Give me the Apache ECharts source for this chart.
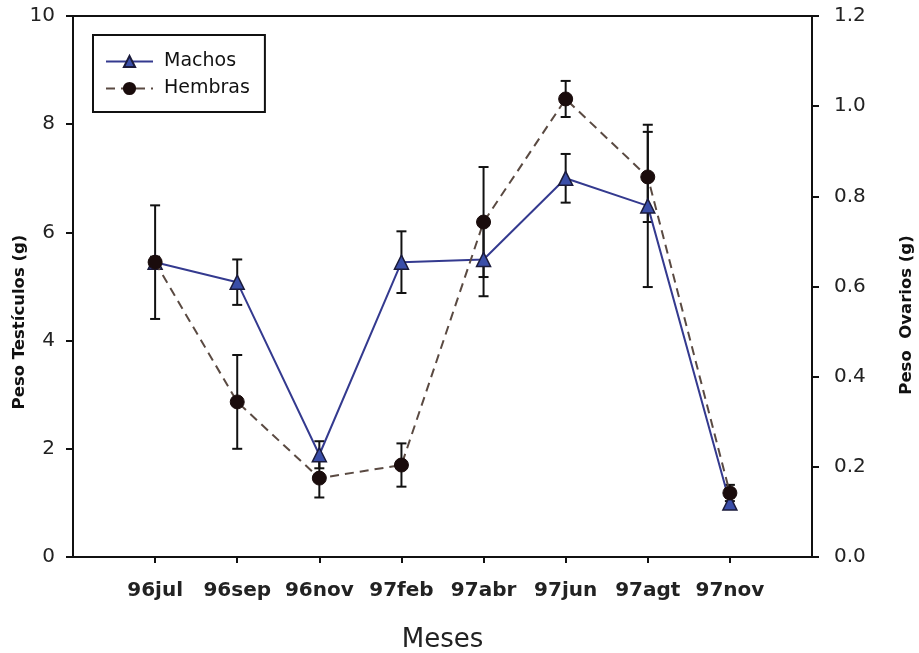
<!DOCTYPE html>
<html>
<head>
<meta charset="utf-8">
<script src="https://cdn.jsdelivr.net/npm/echarts@6/dist/echarts.min.js"></script>
<style>
html,body{margin:0;padding:0;background:#fff;}
#chart{width:919px;height:653px;}
</style>
</head>
<body>
<div id="chart"></div>
<script>
const categories = ['96jul','96sep','96nov','97feb','97abr','97jun','97agt','97nov'];
const machos = [5.45, 5.08, 1.89, 5.45, 5.5, 7.0, 6.49, 1.0];
const machosErr = [1.05, 0.42, 0.25, 0.57, 0.68, 0.45, 1.5, 0.1];
const hembras = [0.654, 0.344, 0.175, 0.204, 0.743, 1.016, 0.843, 0.142];
const hembrasErr = [0.012, 0.104, 0.043, 0.048, 0.122, 0.04, 0.1, 0.018];
const leftTicks = [0, 10, 2];
const rightTicks = [0, 1.2, 0.2];

const axisData = [''].concat(categories).concat(['']);
const FONT = 'DejaVu Sans';

function errData(vals, errs) {
  return vals.map((v, i) => [i + 1, v, errs[i]]);
}
function renderErr(params, api) {
  const x = api.value(0), y = api.value(1), e = api.value(2);
  const top = api.coord([x, y + e]);
  const bot = api.coord([x, y - e]);
  const hw = 5;
  const st = { stroke: '#111', lineWidth: 2 };
  return {
    type: 'group',
    children: [
      { type: 'line', shape: { x1: top[0], y1: top[1], x2: bot[0], y2: bot[1] }, style: st },
      { type: 'line', shape: { x1: top[0] - hw, y1: top[1], x2: top[0] + hw, y2: top[1] }, style: st },
      { type: 'line', shape: { x1: bot[0] - hw, y1: bot[1], x2: bot[0] + hw, y2: bot[1] }, style: st }
    ]
  };
}

const chart = echarts.init(document.getElementById('chart'));
chart.setOption({
  backgroundColor: '#fff',
  animation: false,
  grid: { left: 73, right: 107, top: 16, bottom: 96, containLabel: false, outerBoundsMode: 'none', show: true, borderColor: '#111', borderWidth: 2, backgroundColor: 'transparent' },
  legend: {
    orient: 'vertical',
    left: 93, top: 35,
    padding: [17, 15, 14, 12],
    borderColor: '#111', borderWidth: 2,
    itemWidth: 47, itemHeight: 14, itemGap: 8,
    textStyle: { fontFamily: FONT, fontSize: 19, color: '#111', padding: [0, 0, 0, 6] },
    data: ['Machos', 'Hembras']
  },
  xAxis: {
    type: 'category',
    data: axisData,
    boundaryGap: false,
    name: 'Meses',
    nameLocation: 'middle',
    nameGap: 70,
    nameTextStyle: { fontFamily: FONT, fontSize: 26, color: '#222' },
    axisLine: { lineStyle: { color: '#111', width: 2 } },
    axisTick: { show: true, length: 6, inside: false, interval: (i) => i > 0 && i < axisData.length - 1, lineStyle: { color: '#111', width: 2 } },
    axisLabel: { interval: 0, margin: 24, fontFamily: FONT, fontSize: 20, fontWeight: 'bold', color: '#222' },
    splitLine: { show: false }
  },
  yAxis: [
    {
      type: 'value', position: 'left',
      min: leftTicks[0], max: leftTicks[1], interval: leftTicks[2],
      axisLine: { show: true, lineStyle: { color: '#111', width: 2 } },
      axisTick: { show: true, length: 7, lineStyle: { color: '#111', width: 2 } },
      axisLabel: { margin: 18, fontFamily: FONT, fontSize: 20, color: '#222' },
      splitLine: { show: false }
    },
    {
      type: 'value', position: 'right',
      min: rightTicks[0], max: rightTicks[1], interval: rightTicks[2],
      axisLine: { show: true, lineStyle: { color: '#111', width: 2 } },
      axisTick: { show: true, length: 7, lineStyle: { color: '#111', width: 2 } },
      axisLabel: { margin: 22, fontFamily: FONT, fontSize: 20, color: '#222', formatter: (v) => v.toFixed(1) },
      splitLine: { show: false }
    }
  ],
  graphic: [
    { type: 'text', x: 20, y: 322, rotation: Math.PI / 2,
      style: { text: 'Peso Testículos (g)', textAlign: 'center', textVerticalAlign: 'middle', fontFamily: FONT, fontSize: 16.5, fontWeight: 'bold', fill: '#111' } },
    { type: 'text', x: 907, y: 315, rotation: Math.PI / 2,
      style: { text: 'Peso  Ovarios (g)', textAlign: 'center', textVerticalAlign: 'middle', fontFamily: FONT, fontSize: 16.5, fontWeight: 'bold', fill: '#111' } }
  ],
  series: [
    {
      type: 'custom', name: 'errM', yAxisIndex: 0, z: 2,
      renderItem: renderErr, data: errData(machos, machosErr),
      encode: { x: 0, y: 1 }, silent: true
    },
    {
      type: 'custom', name: 'errH', yAxisIndex: 1, z: 2,
      renderItem: renderErr, data: errData(hembras, hembrasErr),
      encode: { x: 0, y: 1 }, silent: true
    },
    {
      type: 'line', name: 'Machos', yAxisIndex: 0, z: 3,
      data: machos.map((v, i) => [i + 1, v]),
      symbol: 'triangle', symbolSize: 14,
      lineStyle: { color: '#343a8f', width: 2, type: 'solid' },
      itemStyle: { color: '#3a4ea8', borderColor: '#1a1a3a', borderWidth: 1.5 }
    },
    {
      type: 'line', name: 'Hembras', yAxisIndex: 1, z: 4,
      data: hembras.map((v, i) => [i + 1, v]),
      symbol: 'circle', symbolSize: 14,
      lineStyle: { color: '#5a4a42', width: 2, type: [9, 6] },
      itemStyle: { color: '#1a0c0c', borderColor: '#1a0c0c', borderWidth: 1 }
    }
  ]
});
</script>
</body>
</html>
